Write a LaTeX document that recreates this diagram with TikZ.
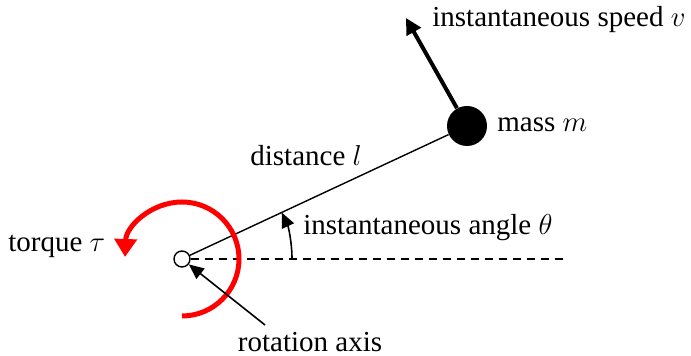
\documentclass[tikz,border=0pt]{standalone}
\usepackage{fontspec}
\setmainfont{Liberation Serif}
\usepackage{tikz}
\usetikzlibrary{arrows.meta,calc}
\definecolor{torque}{HTML}{FF0000}

\begin{document}
\begin{tikzpicture}[x=0.5pt,y=0.5pt,
  label/.style={inner sep=0pt,font=\fontsize{14.5}{17}\selectfont},
  thinarrow/.style={line width=0.8pt,-{Triangle[length=7.5pt,width=6.5pt]}}]
\useasboundingbox (0,0) rectangle (691,356);
% pivot, rod and mass
\node[circle,draw,line width=0.7pt,fill=white,minimum size=8pt,inner sep=0pt] (pivot) at (182,97) {};
\node[circle,fill=black,minimum size=20pt,inner sep=0pt] (mass) at (467,230) {};
\coordinate (dashend) at (568,97);
\draw[line width=0.6pt,dash pattern=on 4pt off 3pt] (pivot) -- (dashend);
\draw[line width=0.7pt] (pivot) -- (mass);
% velocity
\coordinate (vtip) at (406,338);
\draw[line width=2pt,-{Triangle[length=8pt,width=8pt]}] (mass) -- (vtip);
% angle
\draw[thinarrow] ($(pivot)+(110,0)$) arc[start angle=0,end angle=25,radius=110];
% torque
\draw[torque,line width=2.5pt,-{Triangle[length=9pt,width=11pt]}] ($(pivot)+(0,-57)$) arc[start angle=-90,end angle=178,radius=57];
% rotation axis
\coordinate (axisfrom) at (265,31);
\draw[thinarrow] (axisfrom) -- (pivot);
% labels
\node[label,anchor=west] (speed) at (432,336) {instantaneous speed $v$};
\node[label,anchor=west] (masslbl) at (497,231) {mass $m$};
\node[label] (dist) at (306,200) {distance $l$};
\node[label,anchor=west] (angle) at (303,128) {instantaneous angle $\theta$};
\node[label,anchor=west] (torquelbl) at (8,110) {torque $\tau$};
\node[label] (axis) at (310,14) {rotation axis};
\end{tikzpicture}
\end{document}
